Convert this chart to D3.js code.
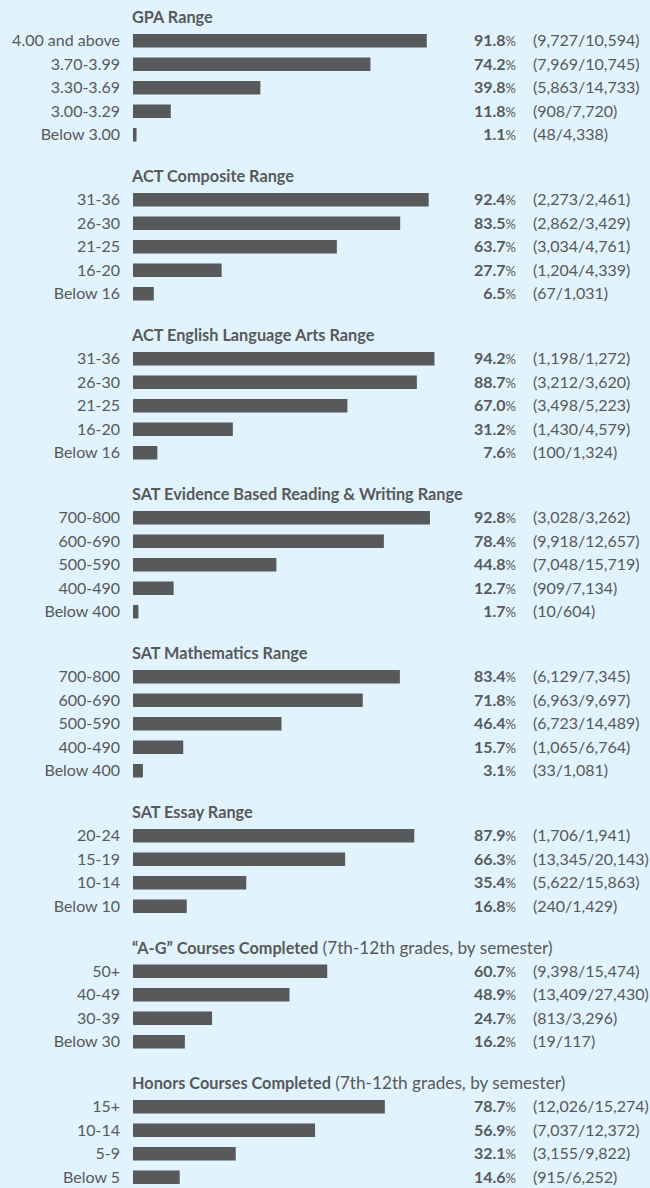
<!DOCTYPE html>
<html>
<head>
<meta charset="utf-8">
<script src="https://cdn.jsdelivr.net/npm/d3@7"></script>
<style>
  html, body { margin: 0; padding: 0; background: #e1f3fc; }
  svg { display: block; font-family: Lato, "Noto Sans", sans-serif; }
</style>
</head>
<body>
<svg id="chart"></svg>
<script>
const width = 650;
const height = 1188;

// section titles (bold part, light part)
const titles = ["GPA Range", "ACT Composite Range", "ACT English Language Arts Range",
                "SAT Evidence Based Reading & Writing Range", "SAT Mathematics Range",
                "SAT Essay Range", "\u201cA-G\u201d Courses Completed", "Honors Courses Completed"];
const subtitles = ["", "", "", "", "", "", "(7th-12th grades, by semester)", "(7th-12th grades, by semester)"];

const gpaLabels = ["4.00 and above", "3.70-3.99", "3.30-3.69", "3.00-3.29", "Below 3.00"];
const gpaRates = [91.8, 74.2, 39.8, 11.8, 1.1];
const gpaAdmits = [9727, 7969, 5863, 908, 48];
const gpaApplicants = [10594, 10745, 14733, 7720, 4338];

const actLabels = ["31-36", "26-30", "21-25", "16-20", "Below 16"];
const actRates = [92.4, 83.5, 63.7, 27.7, 6.5];
const actAdmits = [2273, 2862, 3034, 1204, 67];
const actApplicants = [2461, 3429, 4761, 4339, 1031];

const elaLabels = ["31-36", "26-30", "21-25", "16-20", "Below 16"];
const elaRates = [94.2, 88.7, 67.0, 31.2, 7.6];
const elaAdmits = [1198, 3212, 3498, 1430, 100];
const elaApplicants = [1272, 3620, 5223, 4579, 1324];

const ebrwLabels = ["700-800", "600-690", "500-590", "400-490", "Below 400"];
const ebrwRates = [92.8, 78.4, 44.8, 12.7, 1.7];
const ebrwAdmits = [3028, 9918, 7048, 909, 10];
const ebrwApplicants = [3262, 12657, 15719, 7134, 604];

const mathLabels = ["700-800", "600-690", "500-590", "400-490", "Below 400"];
const mathRates = [83.4, 71.8, 46.4, 15.7, 3.1];
const mathAdmits = [6129, 6963, 6723, 1065, 33];
const mathApplicants = [7345, 9697, 14489, 6764, 1081];

const essayLabels = ["20-24", "15-19", "10-14", "Below 10"];
const essayRates = [87.9, 66.3, 35.4, 16.8];
const essayAdmits = [1706, 13345, 5622, 240];
const essayApplicants = [1941, 20143, 15863, 1429];

const agLabels = ["50+", "40-49", "30-39", "Below 30"];
const agRates = [60.7, 48.9, 24.7, 16.2];
const agAdmits = [9398, 13409, 813, 19];
const agApplicants = [15474, 27430, 3296, 117];

const honorsLabels = ["15+", "10-14", "5-9", "Below 5"];
const honorsRates = [78.7, 56.9, 32.1, 14.6];
const honorsAdmits = [12026, 7037, 3155, 915];
const honorsApplicants = [15274, 12372, 9822, 6252];

const sections = [
  [gpaLabels, gpaRates, gpaAdmits, gpaApplicants],
  [actLabels, actRates, actAdmits, actApplicants],
  [elaLabels, elaRates, elaAdmits, elaApplicants],
  [ebrwLabels, ebrwRates, ebrwAdmits, ebrwApplicants],
  [mathLabels, mathRates, mathAdmits, mathApplicants],
  [essayLabels, essayRates, essayAdmits, essayApplicants],
  [agLabels, agRates, agAdmits, agApplicants],
  [honorsLabels, honorsRates, honorsAdmits, honorsApplicants]
].map((s, i) => ({
  title: titles[i],
  subtitle: subtitles[i],
  rows: s[0].map((label, j) => ({label: label, rate: s[1][j], admit: s[2][j], applicants: s[3][j]}))
}));

const textColor = "#58595b";
const barColor = "#58595b";
const rowStep = 23.5;
const sectionGap = 41.5;
const top0 = 34;

const svg = d3.select("#chart")
              .attr("width", width)
              .attr("height", height);

const x = d3.scaleLinear()
            .domain([0, 100])
            .range([133, 453]);

const fmt = d3.format(",");

let start = top0;
sections.forEach(function(sec) {
  const n = sec.rows.length;
  const y = d3.scaleBand()
              .domain(sec.rows.map(d => d.label))
              .range([start - 5, start - 5 + n * rowStep])
              .paddingInner(10 / rowStep)
              .paddingOuter(5 / rowStep);

  const g = svg.append("g");

  const title = g.append("text")
                 .attr("x", 132)
                 .attr("y", start - 11)
                 .attr("fill", textColor)
                 .style("font-size", "16.3px");
  title.append("tspan").attr("font-weight", 700).text(sec.title);
  if (sec.subtitle) title.append("tspan").attr("font-weight", 400).attr("font-size", "17.2px").text(" " + sec.subtitle);

  const rows = g.selectAll("g.row")
                .data(sec.rows)
                .enter()
                .append("g")
                .attr("class", "row");

  rows.append("rect")
      .attr("x", x(0))
      .attr("y", d => y(d.label))
      .attr("width", d => x(d.rate) - x(0))
      .attr("height", y.bandwidth())
      .attr("fill", barColor);

  rows.append("text")
      .attr("x", 120)
      .attr("y", d => y(d.label) + y.bandwidth() / 2 + 5.5)
      .attr("text-anchor", "end")
      .attr("fill", textColor)
      .style("font-size", "16px")
      .text(d => d.label);

  const pct = rows.append("text")
                  .attr("x", 516)
                  .attr("y", d => y(d.label) + y.bandwidth() / 2 + 5.5)
                  .attr("text-anchor", "end")
                  .attr("fill", textColor)
                  .style("font-size", "16px");
  pct.append("tspan").attr("font-weight", 700).text(d => d.rate.toFixed(1));
  pct.append("tspan").attr("font-size", "13px").text("%");

  rows.append("text")
      .attr("x", 533)
      .attr("y", d => y(d.label) + y.bandwidth() / 2 + 5.5)
      .attr("fill", textColor)
      .style("font-size", "16px")
      .text(d => "(" + fmt(d.admit) + "/" + fmt(d.applicants) + ")");

  start += n * rowStep + sectionGap;
});
</script>
</body>
</html>
